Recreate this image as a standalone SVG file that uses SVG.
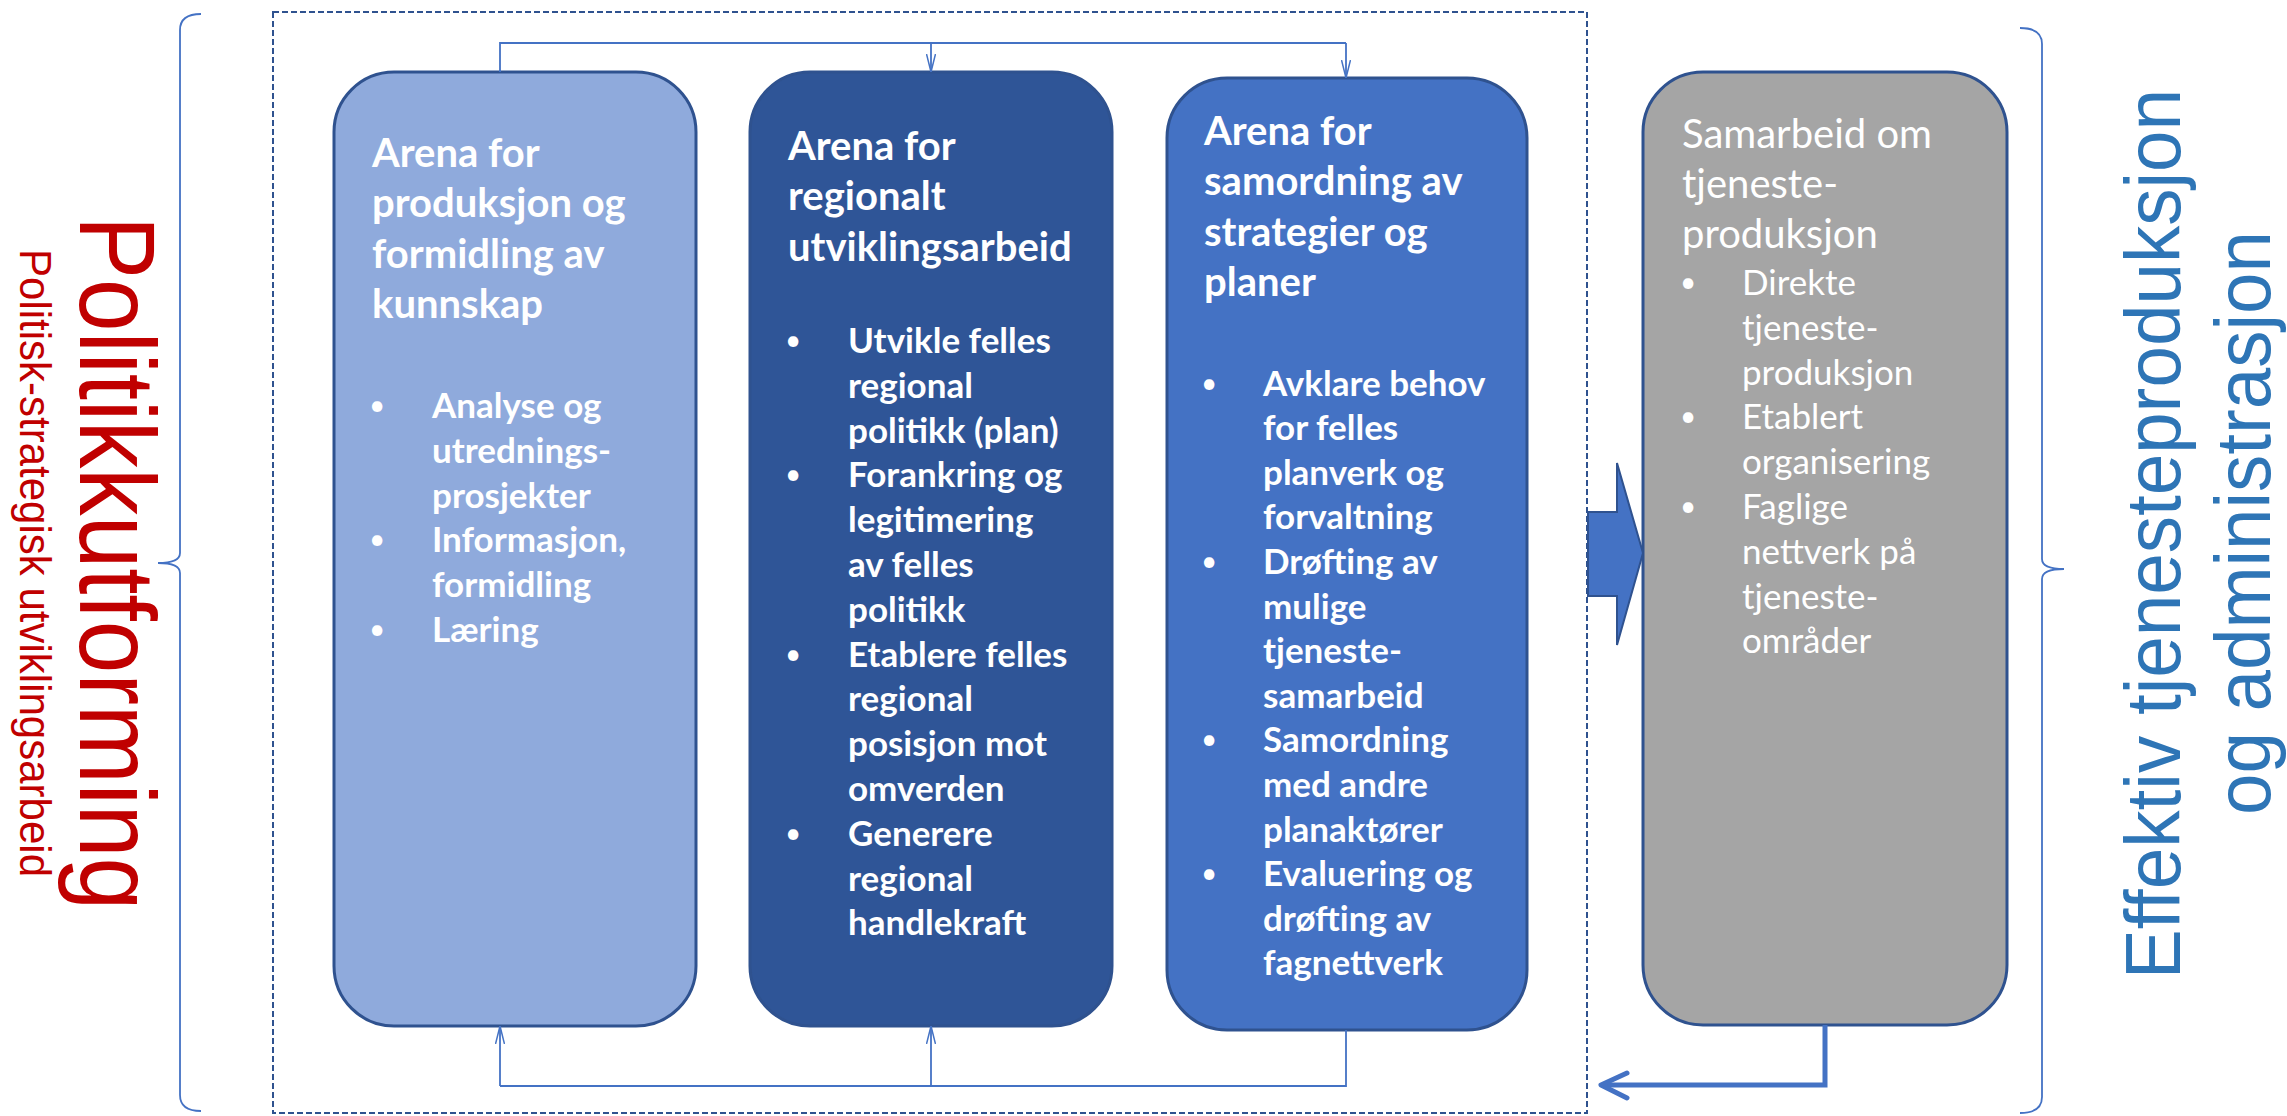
<svg xmlns="http://www.w3.org/2000/svg" width="2287" height="1116" viewBox="0 0 2287 1116">
<style>
.box{stroke:#2F528F;stroke-width:3}
.t{font-family:Lato,"Liberation Sans",sans-serif;fill:#FFFFFF;font-weight:bold;font-size:40px}
.b{font-family:Lato,"Liberation Sans",sans-serif;fill:#FFFFFF;font-weight:bold;font-size:35px}
.tr{font-family:Lato,"Liberation Sans",sans-serif;fill:#FFFFFF;font-size:40px}
.br{font-family:Lato,"Liberation Sans",sans-serif;fill:#FFFFFF;font-size:35px}
.dot{font-family:Lato,"Liberation Sans",sans-serif;fill:#FFFFFF;font-size:28px;text-anchor:middle}
.conn{fill:none;stroke:#4472C4;stroke-width:1.8}
.brace{fill:none;stroke:#4472C4;stroke-width:1.8}
</style>
<defs>
<marker id="openv" viewBox="0 0 18 10" refX="18" refY="5" markerWidth="18" markerHeight="10" markerUnits="userSpaceOnUse" orient="auto">
<path d="M0,0.5 L18,5 L0,9.5" fill="none" stroke="#4472C4" stroke-width="1.5"/>
</marker>
</defs>
<rect width="2287" height="1116" fill="#FFFFFF"/>

<g id="left-brace">
<path class="brace" d="M201,14 Q180,14 180,30 L180,553 Q180,563 158,563 Q180,563 180,573 L180,1095 Q180,1111 201,1111"/>
</g>
<g id="right-brace">
<path class="brace" d="M2020,28 Q2042,28 2042,44 L2042,559 Q2042,569 2064,569 Q2042,569 2042,579 L2042,1097 Q2042,1113 2020,1113"/>
</g>

<g id="left-label">
<text transform="translate(80,563) rotate(90)" text-anchor="middle" font-family="'Liberation Sans',Arial,sans-serif" font-size="107" fill="#C00000" textLength="694" lengthAdjust="spacingAndGlyphs">Politikkutforming</text>
<text transform="translate(20,563) rotate(90)" text-anchor="middle" font-family="'Liberation Sans',Arial,sans-serif" font-size="44" fill="#C00000" textLength="628" lengthAdjust="spacingAndGlyphs">Politisk-strategisk utviklingsarbeid</text>
</g>

<g id="right-label">
<text transform="translate(2180,534) rotate(-90)" text-anchor="middle" font-family="'Liberation Sans',Arial,sans-serif" font-size="77" fill="#2E75B6" textLength="890" lengthAdjust="spacingAndGlyphs">Effektiv tjenesteproduksjon</text>
<text transform="translate(2270,523) rotate(-90)" text-anchor="middle" font-family="'Liberation Sans',Arial,sans-serif" font-size="77" fill="#2E75B6" textLength="584" lengthAdjust="spacingAndGlyphs">og administrasjon</text>
</g>

<g id="frame">
<rect x="273" y="12" width="1314" height="1101" fill="none" stroke="#2F528F" stroke-width="2" stroke-dasharray="6 3"/>
</g>

<g id="box1">
<rect class="box" x="334" y="72" width="362" height="954" rx="60" fill="#8FAADC"/>
<text class="t" x="372" y="167">Arena for</text>
<text class="t" x="372" y="217.4">produksjon og</text>
<text class="t" x="372" y="267.8">formidling av</text>
<text class="t" x="372" y="318.2">kunnskap</text>
<text class="dot" x="377" y="415">•</text>
<text class="b" x="432" y="418">Analyse og</text>
<text class="b" x="432" y="462.8">utrednings-</text>
<text class="b" x="432" y="507.6">prosjekter</text>
<text class="dot" x="377" y="549.4">•</text>
<text class="b" x="432" y="552.4">Informasjon,</text>
<text class="b" x="432" y="597.2">formidling</text>
<text class="dot" x="377" y="639">•</text>
<text class="b" x="432" y="642">Læring</text>
</g>

<g id="box2">
<rect class="box" x="750" y="72" width="362" height="954" rx="60" fill="#2F5597"/>
<text class="t" x="788" y="160">Arena for</text>
<text class="t" x="788" y="210.4">regionalt</text>
<text class="t" x="788" y="260.8">utviklingsarbeid</text>
<text class="dot" x="793" y="350">•</text>
<text class="b" x="848" y="353">Utvikle felles</text>
<text class="b" x="848" y="397.8">regional</text>
<text class="b" x="848" y="442.6">politikk (plan)</text>
<text class="dot" x="793" y="484.4">•</text>
<text class="b" x="848" y="487.4">Forankring og</text>
<text class="b" x="848" y="532.2">legitimering</text>
<text class="b" x="848" y="577">av felles</text>
<text class="b" x="848" y="621.8">politikk</text>
<text class="dot" x="793" y="663.6">•</text>
<text class="b" x="848" y="666.6">Etablere felles</text>
<text class="b" x="848" y="711.4">regional</text>
<text class="b" x="848" y="756.2">posisjon mot</text>
<text class="b" x="848" y="801">omverden</text>
<text class="dot" x="793" y="842.8">•</text>
<text class="b" x="848" y="845.8">Generere</text>
<text class="b" x="848" y="890.6">regional</text>
<text class="b" x="848" y="935.4">handlekraft</text>
</g>

<g id="box3">
<rect class="box" x="1167" y="78" width="360" height="952" rx="60" fill="#4472C4"/>
<text class="t" x="1204" y="145">Arena for</text>
<text class="t" x="1204" y="195.4">samordning av</text>
<text class="t" x="1204" y="245.8">strategier og</text>
<text class="t" x="1204" y="296.2">planer</text>
<text class="dot" x="1209" y="392.6">•</text>
<text class="b" x="1263" y="395.6">Avklare behov</text>
<text class="b" x="1263" y="440.2">for felles</text>
<text class="b" x="1263" y="484.8">planverk og</text>
<text class="b" x="1263" y="529.4">forvaltning</text>
<text class="dot" x="1209" y="571">•</text>
<text class="b" x="1263" y="574">Drøfting av</text>
<text class="b" x="1263" y="618.6">mulige</text>
<text class="b" x="1263" y="663.2">tjeneste-</text>
<text class="b" x="1263" y="707.8">samarbeid</text>
<text class="dot" x="1209" y="749.4">•</text>
<text class="b" x="1263" y="752.4">Samordning</text>
<text class="b" x="1263" y="797">med andre</text>
<text class="b" x="1263" y="841.6">planaktører</text>
<text class="dot" x="1209" y="883.2">•</text>
<text class="b" x="1263" y="886.2">Evaluering og</text>
<text class="b" x="1263" y="930.8">drøfting av</text>
<text class="b" x="1263" y="975.4">fagnettverk</text>
</g>

<g id="box4">
<rect class="box" x="1643" y="72" width="364" height="953" rx="60" fill="#A5A5A5"/>
<text class="tr" x="1682" y="148">Samarbeid om</text>
<text class="tr" x="1682" y="198">tjeneste-</text>
<text class="tr" x="1682" y="248">produksjon</text>
<text class="dot" x="1688" y="292">•</text>
<text class="br" x="1742" y="295">Direkte</text>
<text class="br" x="1742" y="339.8">tjeneste-</text>
<text class="br" x="1742" y="384.6">produksjon</text>
<text class="dot" x="1688" y="426.4">•</text>
<text class="br" x="1742" y="429.4">Etablert</text>
<text class="br" x="1742" y="474.2">organisering</text>
<text class="dot" x="1688" y="516">•</text>
<text class="br" x="1742" y="519">Faglige</text>
<text class="br" x="1742" y="563.8">nettverk på</text>
<text class="br" x="1742" y="608.6">tjeneste-</text>
<text class="br" x="1742" y="653.4">områder</text>
</g>

<g id="connectors">
<path class="conn" d="M500,72 L500,43 L1346,43"/>
<path class="conn" d="M931,43 L931,72" marker-end="url(#openv)"/>
<path class="conn" d="M1346,43 L1346,78" marker-end="url(#openv)"/>
<path class="conn" d="M1346,1030 L1346,1086 L500,1086"/>
<path class="conn" d="M500,1086 L500,1026" marker-end="url(#openv)"/>
<path class="conn" d="M931,1086 L931,1026" marker-end="url(#openv)"/>
<path d="M1588,512 L1617,512 L1617,463 L1643,553 L1617,645 L1617,596 L1588,596 Z" fill="#4472C4" stroke="#2F528F" stroke-width="2"/>
<path d="M1825,1025 L1825,1085 L1602,1085" fill="none" stroke="#4472C4" stroke-width="5"/>
<path d="M1627,1073 L1601,1085 L1627,1098" fill="none" stroke="#4472C4" stroke-width="5" stroke-linecap="round" stroke-linejoin="round"/>
</g>
</svg>
